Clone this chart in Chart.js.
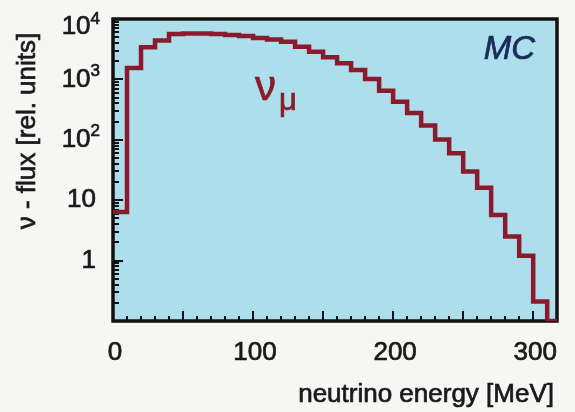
<!DOCTYPE html>
<html>
<head>
<meta charset="utf-8">
<script src="https://cdn.jsdelivr.net/npm/chart.js@4.4.1/dist/chart.umd.min.js"></script>
<style>
  html, body { margin: 0; padding: 0; background: #f6f6f4; }
</style>
</head>
<body>
<canvas id="grafico" width="575" height="412"></canvas>
<script>
// bordas dos bins de energia (MeV)
const bordasBins = [0, 10, 20, 30, 40, 50, 60, 70, 80, 90, 100, 110, 120, 130, 140, 150,
  160, 170, 180, 190, 200, 210, 220, 230, 240, 250, 260, 270, 280, 290, 300, 310];
// fluxo de nu_mu em cada bin (unidades relativas)
const fluxoNuMu = [6.4, 1550, 3400, 4400, 5650, 5760, 5760, 5650, 5430, 5230, 4850, 4580,
  4210, 3480, 2870, 2320, 1850, 1430, 1020, 650, 428, 278, 173, 101, 60, 30, 16, 5.7,
  2.5, 1.2, 0.21];
const limitesX = [0, 317];
const limitesY = [0.1, 10000];
const ticksX = [0, 100, 200, 300];
const ticksY = [1, 10, 100, 1000, 10000];
const rotulosY = [['1', ''], ['10', ''], ['10', '2'], ['10', '3'], ['10', '4']];

const fonte = '"Liberation Sans", Arial, sans-serif';
const corFundo = '#acdeeb';
const corLinha = '#8a1a2c';

// pontos do histograma (degraus)
const pontos = fluxoNuMu.map((v, i) => ({ x: bordasBins[i], y: v }));
pontos.push({ x: bordasBins[bordasBins.length - 1], y: limitesY[0] });
pontos.push({ x: limitesX[1], y: limitesY[0] });

// texto um pouco mais grosso, como no original escaneado
function escrever(ctx, txt, x, y) {
  ctx.fillText(txt, x, y);
  ctx.strokeText(txt, x, y);
}

const moldura = {
  id: 'moldura',
  beforeDraw(chart) {
    const ctx = chart.ctx;
    const a = chart.chartArea;
    ctx.save();
    ctx.fillStyle = '#f6f6f4';
    ctx.fillRect(0, 0, chart.width, chart.height);
    ctx.fillStyle = corFundo;
    ctx.fillRect(a.left, a.top, a.right - a.left, a.bottom - a.top);
    ctx.restore();
  },
  beforeDatasetsDraw(chart) {
    const ctx = chart.ctx;
    const a = chart.chartArea;
    const x = chart.scales.x;
    const y = chart.scales.y;
    ctx.save();
    ctx.strokeStyle = '#111';
    ctx.lineWidth = 2;

    // ticks do eixo y (log), para dentro
    for (let d = 0.1; d < 10000; d *= 10) {
      for (let m = 1; m <= 9; m++) {
        const v = d * m;
        if (v < limitesY[0] || v > limitesY[1]) continue;
        const py = Math.round(y.getPixelForValue(v));
        const tam = m === 1 ? 10 : 6;
        ctx.beginPath();
        ctx.moveTo(a.left, py);
        ctx.lineTo(a.left + tam, py);
        ctx.stroke();
      }
    }

    // ticks do eixo x
    for (let e = 0; e <= 310; e += 10) {
      const px = Math.round(x.getPixelForValue(e));
      const tam = e % 50 === 0 ? 10 : 5;
      ctx.beginPath();
      ctx.moveTo(px, a.bottom);
      ctx.lineTo(px, a.bottom - tam);
      ctx.stroke();
    }

    // moldura
    ctx.lineWidth = 3.5;
    ctx.strokeRect(a.left, a.top, a.right - a.left, a.bottom - a.top);
    ctx.restore();
  },
  afterDraw(chart) {
    const ctx = chart.ctx;
    const a = chart.chartArea;
    const x = chart.scales.x;
    const y = chart.scales.y;
    ctx.save();
    ctx.fillStyle = '#1a1a1a';
    ctx.strokeStyle = '#1a1a1a';
    ctx.lineWidth = 0.7;

    // rótulos do eixo x
    ctx.font = '26px ' + fonte;
    ctx.textAlign = 'center';
    ctx.textBaseline = 'middle';
    ticksX.forEach(t => {
      escrever(ctx, String(t), x.getPixelForValue(t) + 2, 353);
    });

    // rótulos do eixo y com expoente
    ctx.textAlign = 'left';
    ticksY.forEach((t, i) => {
      const [base, exp] = rotulosY[i];
      const py = Math.max(y.getPixelForValue(t), a.top + 8);
      ctx.font = '17px ' + fonte;
      const w2 = exp ? ctx.measureText(exp).width : 0;
      ctx.font = '26px ' + fonte;
      const w1 = ctx.measureText(base).width;
      const xr = exp ? 100 : 96;
      escrever(ctx, base, xr - w2 - w1, py);
      if (exp) {
        ctx.font = '17px ' + fonte;
        escrever(ctx, exp, xr - w2, py - 8);
      }
    });

    // título do eixo x
    ctx.font = '26px ' + fonte;
    ctx.textAlign = 'right';
    escrever(ctx, 'neutrino energy [MeV]', 554, 395);

    // título do eixo y
    ctx.save();
    ctx.translate(28, 131);
    ctx.rotate(-Math.PI / 2);
    ctx.textAlign = 'center';
    escrever(ctx, 'ν - flux [rel. units]', 0, 0);
    ctx.restore();

    // MC
    ctx.fillStyle = '#1c2a5c';
    ctx.strokeStyle = '#1c2a5c';
    ctx.font = 'italic 33px ' + fonte;
    ctx.textAlign = 'right';
    escrever(ctx, 'MC', 535, 50);

    // nu_mu
    ctx.fillStyle = corLinha;
    ctx.strokeStyle = corLinha;
    ctx.textAlign = 'left';
    ctx.textBaseline = 'alphabetic';
    ctx.font = '42px ' + fonte;
    escrever(ctx, 'ν', 255, 100);
    ctx.font = '31px ' + fonte;
    escrever(ctx, 'μ', 279, 110);
    ctx.restore();
  }
};

new Chart(document.getElementById('grafico'), {
  type: 'line',
  data: {
    datasets: [{
      label: 'fluxo nu_mu',
      data: pontos,
      stepped: true,
      borderColor: corLinha,
      borderWidth: 4.5,
      pointRadius: 0,
      fill: false
    }]
  },
  options: {
    responsive: false,
    animation: false,
    layout: { padding: { left: 113, top: 19, right: 18, bottom: 91 } },
    scales: {
      x: { type: 'linear', min: limitesX[0], max: limitesX[1], display: false },
      y: { type: 'logarithmic', min: limitesY[0], max: limitesY[1], display: false }
    },
    plugins: {
      legend: { display: false },
      tooltip: { enabled: false }
    }
  },
  plugins: [moldura]
});
</script>
</body>
</html>
